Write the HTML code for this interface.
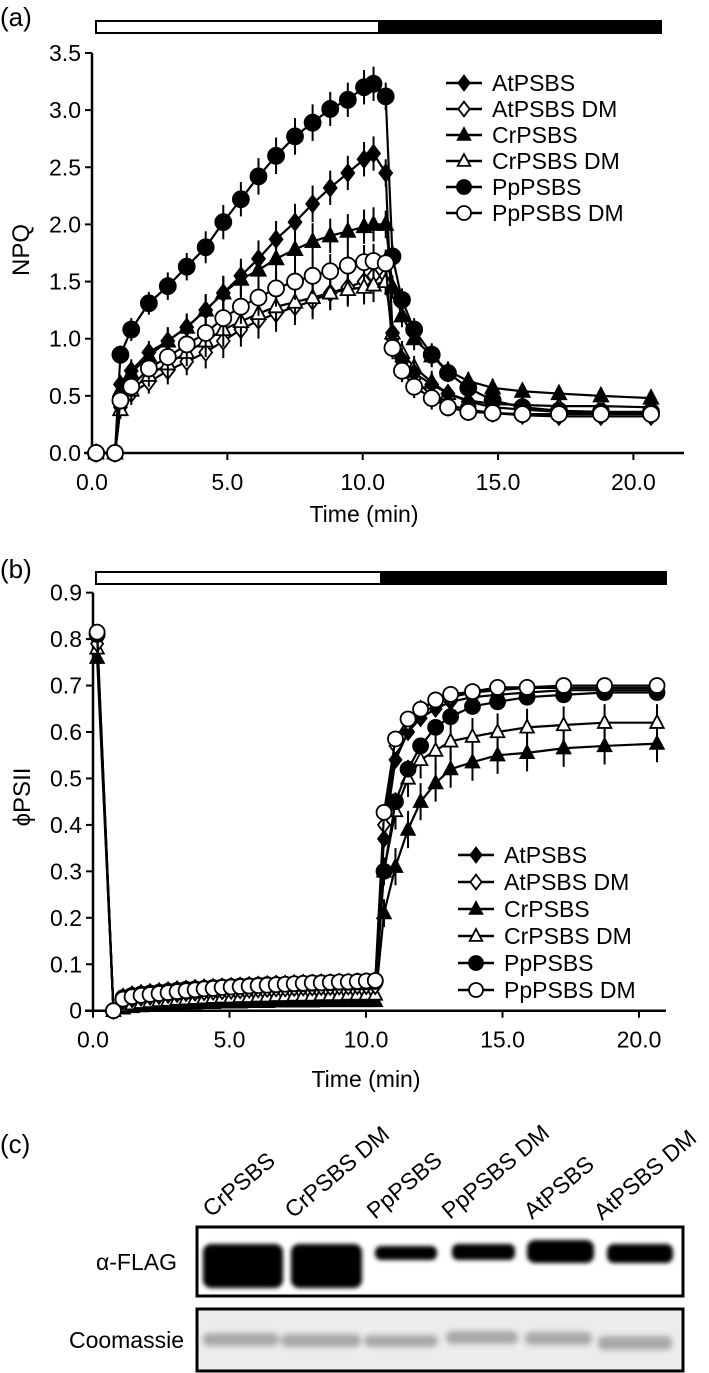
<!DOCTYPE html>
<html><head><meta charset="utf-8"><style>
html,body{margin:0;padding:0;background:#fff;}
svg{display:block;font-family:"Liberation Sans",Arial,sans-serif;}
</style></head><body>
<svg id="fig" width="709" height="1373" viewBox="0 0 709 1373" xmlns="http://www.w3.org/2000/svg">
<defs>
<filter id="blur2" x="-20%" y="-50%" width="140%" height="200%"><feGaussianBlur stdDeviation="2"/></filter>
<filter id="blur3" x="-20%" y="-50%" width="140%" height="200%"><feGaussianBlur stdDeviation="3"/></filter>
</defs>
<!-- panel a static -->
<g>
<text x="0" y="26" font-size="26">(a)</text>
<rect x="96" y="21" width="283" height="12" fill="#fff" stroke="#000" stroke-width="2"/>
<rect x="379" y="21" width="282" height="12" fill="#000" stroke="#000" stroke-width="2"/>
<text transform="translate(29,250) rotate(-90)" text-anchor="middle" font-size="24">NPQ</text>
<text x="364" y="522" text-anchor="middle" font-size="23">Time (min)</text>
<g id="axesA"></g><g id="seriesA"></g>
</g>
<g id="legendA"></g>
<!-- panel b static -->
<g>
<text x="0" y="578" font-size="26">(b)</text>
<rect x="96" y="572" width="285" height="12" fill="#fff" stroke="#000" stroke-width="2"/>
<rect x="381" y="572" width="285" height="12" fill="#000" stroke="#000" stroke-width="2"/>
<text transform="translate(30,797) rotate(-90)" text-anchor="middle" font-size="24">ϕPSII</text>
<text x="366" y="1087" text-anchor="middle" font-size="23">Time (min)</text>
<g id="axesB"></g><g id="seriesB"></g>
</g>
<g id="legendB"></g>
<!-- panel c -->
<g>
<text x="0" y="1153" font-size="26">(c)</text>
<g font-size="23">
<text transform="translate(211,1218) rotate(-40)">CrPSBS</text>
<text transform="translate(293,1219) rotate(-40)">CrPSBS DM</text>
<text transform="translate(375,1220) rotate(-40)">PpPSBS</text>
<text transform="translate(450,1220) rotate(-40)">PpPSBS DM</text>
<text transform="translate(532,1220) rotate(-40)">AtPSBS</text>
<text transform="translate(602,1221) rotate(-40)">AtPSBS DM</text>
</g>
<text x="177" y="1270" text-anchor="end" font-size="23">α-FLAG</text>
<text x="184" y="1348" text-anchor="end" font-size="23">Coomassie</text>
<g>
<rect x="197" y="1227" width="486" height="69" fill="#fff" stroke="#000" stroke-width="3"/>
<g filter="url(#blur2)" fill="#000">
<rect x="203" y="1244" width="80" height="44" rx="8"/>
<rect x="291" y="1244" width="71" height="44" rx="8"/>
<rect x="375" y="1246" width="62" height="14" rx="6"/>
<rect x="452" y="1244" width="63" height="16" rx="6"/>
<rect x="527" y="1240" width="67" height="23" rx="8"/>
<rect x="607" y="1244" width="66" height="19" rx="7"/>
</g>
</g>
<g>
<rect x="197" y="1309" width="486" height="62" fill="#ececec" stroke="#000" stroke-width="3"/>
<g filter="url(#blur3)" fill="#a8a8a8">
<rect x="203" y="1333" width="76" height="13" rx="6"/>
<rect x="281" y="1334" width="80" height="13" rx="6"/>
<rect x="364" y="1335" width="74" height="12" rx="6"/>
<rect x="446" y="1331" width="72" height="13" rx="6"/>
<rect x="525" y="1332" width="67" height="13" rx="6"/>
<rect x="598" y="1336" width="74" height="14" rx="6"/>
</g>
</g>
</g>
</svg>
<script>
// ---------- Panel A data ----------
const tA = [0.15,0.85,1.05,1.45,2.1,2.8,3.5,4.2,4.85,5.5,6.15,6.8,7.5,8.15,8.8,9.45,10.05,10.4,10.85,11.1,11.45,11.9,12.55,13.15,13.9,14.8,15.9,17.25,18.8,20.65];
const npqAt   = [0,0,0.6,0.72,0.88,0.98,1.1,1.25,1.4,1.55,1.7,1.87,2.02,2.18,2.32,2.45,2.57,2.62,2.45,1.05,0.82,0.7,0.6,0.52,0.45,0.4,0.38,0.36,0.35,0.35];
const npqAtDM = [0,0,0.4,0.52,0.62,0.72,0.8,0.88,0.98,1.08,1.16,1.22,1.28,1.33,1.4,1.45,1.5,1.55,1.55,1.0,0.8,0.65,0.5,0.42,0.38,0.35,0.33,0.32,0.32,0.32];
const npqCr   = [0,0,0.55,0.7,0.85,0.98,1.1,1.25,1.4,1.52,1.6,1.7,1.78,1.85,1.9,1.94,1.98,2.0,2.0,1.45,1.2,1.0,0.85,0.72,0.63,0.57,0.54,0.52,0.5,0.48];
const npqCrDM = [0,0,0.38,0.55,0.68,0.78,0.88,0.98,1.08,1.15,1.22,1.28,1.32,1.36,1.4,1.43,1.45,1.47,1.5,1.05,0.88,0.75,0.62,0.52,0.46,0.43,0.42,0.41,0.41,0.4];
const npqPp   = [0,0,0.86,1.08,1.31,1.46,1.63,1.8,2.02,2.22,2.42,2.6,2.77,2.89,3.01,3.09,3.2,3.23,3.12,1.72,1.34,1.08,0.86,0.7,0.57,0.46,0.4,0.37,0.36,0.36];
const npqPpDM = [0,0,0.46,0.58,0.74,0.84,0.95,1.05,1.18,1.28,1.36,1.44,1.5,1.55,1.59,1.64,1.67,1.68,1.66,0.92,0.72,0.58,0.48,0.4,0.36,0.35,0.34,0.34,0.34,0.34];
const errA = [0,0,0.08,0.1,0.1,0.12,0.12,0.14,0.15,0.15,0.16,0.16,0.16,0.16,0.15,0.15,0.15,0.15,0.12,0.1,0.1,0.1,0.1,0.08,0.08,0.08,0.07,0.07,0.06,0.06];
const yTicksA = [0,0.5,1.0,1.5,2.0,2.5,3.0,3.5];
const yTickLabelsA = ["0.0","0.5","1.0","1.5","2.0","2.5","3.0","3.5"];
const xTicks = [0,5,10,15,20];
const xTickLabels = ["0.0","5.0","10.0","15.0","20.0"];
// ---------- Panel B data ----------
const tB = [0.15,0.75,1.1,1.43,1.76,2.09,2.42,2.75,3.08,3.41,3.74,4.07,4.4,4.73,5.06,5.39,5.72,6.05,6.38,6.71,7.04,7.37,7.7,8.03,8.36,8.69,9.02,9.35,9.68,10.01,10.34,10.66,11.08,11.54,12.0,12.55,13.1,13.9,14.82,15.9,17.24,18.74,20.66];
const phiAt   = [0.8,0,0.03,0.035,0.038,0.04,0.042,0.044,0.046,0.047,0.049,0.05,0.051,0.052,0.053,0.054,0.055,0.056,0.057,0.058,0.058,0.059,0.06,0.06,0.061,0.061,0.062,0.062,0.063,0.063,0.063,0.37,0.54,0.6,0.63,0.65,0.665,0.675,0.68,0.685,0.69,0.69,0.69];
const phiAtDM = [0.79,0,0.02,0.025,0.028,0.03,0.032,0.034,0.036,0.038,0.039,0.04,0.041,0.042,0.043,0.044,0.045,0.046,0.047,0.048,0.048,0.049,0.05,0.05,0.051,0.051,0.052,0.052,0.053,0.053,0.053,0.4,0.57,0.62,0.65,0.665,0.675,0.685,0.69,0.695,0.695,0.695,0.695];
const phiCr   = [0.76,0,0.005,0.008,0.01,0.012,0.013,0.014,0.015,0.016,0.016,0.017,0.017,0.018,0.018,0.018,0.019,0.019,0.019,0.02,0.02,0.02,0.02,0.02,0.021,0.021,0.021,0.021,0.021,0.021,0.021,0.21,0.31,0.39,0.45,0.49,0.52,0.535,0.55,0.555,0.565,0.57,0.575];
const phiCrDM = [0.78,0,0.01,0.014,0.017,0.019,0.021,0.022,0.024,0.025,0.026,0.027,0.028,0.029,0.029,0.03,0.03,0.031,0.031,0.032,0.032,0.033,0.033,0.033,0.034,0.034,0.034,0.035,0.035,0.035,0.035,0.3,0.43,0.5,0.54,0.56,0.58,0.59,0.6,0.61,0.615,0.62,0.62];
const phiPp   = [0.81,0,0.028,0.033,0.036,0.038,0.04,0.042,0.044,0.046,0.047,0.048,0.05,0.051,0.052,0.053,0.054,0.055,0.056,0.056,0.057,0.058,0.058,0.059,0.06,0.06,0.061,0.061,0.062,0.062,0.063,0.3,0.45,0.52,0.57,0.61,0.633,0.655,0.665,0.675,0.68,0.685,0.685];
const phiPpDM = [0.815,0,0.025,0.03,0.033,0.035,0.037,0.039,0.041,0.043,0.045,0.047,0.048,0.05,0.051,0.052,0.053,0.054,0.055,0.056,0.057,0.058,0.059,0.06,0.06,0.061,0.062,0.062,0.063,0.064,0.065,0.427,0.585,0.628,0.649,0.669,0.681,0.687,0.696,0.696,0.7,0.7,0.7];
const errB = [0,0,0,0,0,0,0,0,0,0,0,0,0,0,0,0,0,0,0,0,0,0,0,0,0,0,0,0,0,0,0,0.03,0.04,0.04,0.04,0.04,0.04,0.04,0.04,0.04,0.04,0.04,0.04];
const yTicksB = [0,0.1,0.2,0.3,0.4,0.5,0.6,0.7,0.8,0.9];
const yTickLabelsB = ["0","0.1","0.2","0.3","0.4","0.5","0.6","0.7","0.8","0.9"];
const legendNames = ["AtPSBS","AtPSBS DM","CrPSBS","CrPSBS DM","PpPSBS","PpPSBS DM"];

const NS="http://www.w3.org/2000/svg";
function mk(tag,attrs,parent){const e=document.createElementNS(NS,tag);for(const k in attrs)e.setAttribute(k,attrs[k]);parent.appendChild(e);return e;}

const xA=t=>92+t*27.07, yA=v=>453-v*114.3;
const xB=t=>93+t*27.3, yB=v=>1010.7-v*464.5;

function drawAxes(g,xf,yf,yT,yL,yMin,yMax,xEnd,tag){
  let l=mk('line',{x1:xf(0),y1:yf(yMax),x2:xf(0),y2:yf(yMin),stroke:'#000','stroke-width':2.5},g);
  
  
  l=mk('line',{x1:xf(0)-8,y1:yf(yMin),x2:xEnd,y2:yf(yMin),stroke:'#000','stroke-width':2.5},g);
  
  
  yT.forEach((v,i)=>{
    mk('line',{x1:xf(0)-7,y1:yf(v),x2:xf(0),y2:yf(v),stroke:'#000','stroke-width':2},g);
    const t=mk('text',{x:xf(0)-11,y:yf(v)+8,'text-anchor':'end','font-size':23},g);
    t.textContent=yL[i];
    
    
  });
  xTicks.forEach((v,i)=>{
    mk('line',{x1:xf(v),y1:yf(yMin),x2:xf(v),y2:yf(yMin)+7,stroke:'#000','stroke-width':2},g);
    const t=mk('text',{x:xf(v),y:yf(yMin)+37,'text-anchor':'middle','font-size':23},g);
    t.textContent=xTickLabels[i];
    
    
  });
}
function marker(g,type,x,y,r){
  const filled=type.indexOf('f')===0, fill=filled?'#000':'#fff';
  const shape=type.slice(1);
  let e;
  if(shape==='c') e=mk('circle',{cx:x,cy:y,r:r,fill:fill,stroke:'#000','stroke-width':1.8},g);
  else if(shape==='d') e=mk('polygon',{points:`${x},${y-r*1.05} ${x+r*0.8},${y} ${x},${y+r*1.05} ${x-r*0.8},${y}`,fill:fill,stroke:'#000','stroke-width':1.8},g);
  else e=mk('polygon',{points:`${x},${y-r} ${x+r*0.9},${y+r*0.7} ${x-r*0.9},${y+r*0.7}`,fill:fill,stroke:'#000','stroke-width':1.8},g);
  return e;
}
function drawSeries(g,ts,vals,err,xf,yf,type,r,name){
  const sg=mk('g',{},g);
  
  
  if(err){ts.forEach((t,i)=>{if(err[i]>0)mk('line',{x1:xf(t),y1:yf(vals[i]+err[i]),x2:xf(t),y2:yf(vals[i]-err[i]),stroke:'#000','stroke-width':2},sg);});}
  mk('polyline',{points:ts.map((t,i)=>xf(t)+','+yf(vals[i])).join(' '),fill:'none',stroke:'#000','stroke-width':2.2},sg);
  ts.forEach((t,i)=>marker(sg,type,xf(t),yf(vals[i]),r));
}
function drawLegend(g,x,y0,dy){
  const types=['fd','od','ft','ot','fc','oc'];
  legendNames.forEach((n,i)=>{
    const y=y0+i*dy;
    const lg=mk('g',{},g);
    
    
    mk('line',{x1:x,y1:y,x2:x+36,y2:y,stroke:'#000','stroke-width':2.5},lg);
    marker(lg,types[i],x+18,y,7);
    const t=mk('text',{x:x+46,y:y+8,'font-size':23},lg);
    t.textContent=n;
  });
}
const gA=document.getElementById('axesA'), sA=document.getElementById('seriesA');
drawAxes(gA,xA,yA,yTicksA,yTickLabelsA,0,3.5,684,'a');
drawSeries(sA,tA,npqAtDM,errA,xA,yA,'od',8,'series-a-atpsbs-dm');
drawSeries(sA,tA,npqCrDM,errA,xA,yA,'ot',8,'series-a-crpsbs-dm');
drawSeries(sA,tA,npqAt,errA,xA,yA,'fd',8,'series-a-atpsbs');
drawSeries(sA,tA,npqCr,errA,xA,yA,'ft',8,'series-a-crpsbs');
drawSeries(sA,tA,npqPp,errA,xA,yA,'fc',8,'series-a-pppsbs');
drawSeries(sA,tA,npqPpDM,errA,xA,yA,'oc',8,'series-a-pppsbs-dm');
drawLegend(document.getElementById('legendA'),446,83,26);
const gB=document.getElementById('axesB'), sB=document.getElementById('seriesB');
drawAxes(gB,xB,yB,yTicksB,yTickLabelsB,0,0.9,666,'b');
drawSeries(sB,tB,phiCr,errB,xB,yB,'ft',7.5,'series-b-crpsbs');
drawSeries(sB,tB,phiCrDM,errB,xB,yB,'ot',7.5,'series-b-crpsbs-dm');
drawSeries(sB,tB,phiAt,null,xB,yB,'fd',7.5,'series-b-atpsbs');
drawSeries(sB,tB,phiAtDM,null,xB,yB,'od',7.5,'series-b-atpsbs-dm');
drawSeries(sB,tB,phiPp,null,xB,yB,'fc',7.5,'series-b-pppsbs');
drawSeries(sB,tB,phiPpDM,null,xB,yB,'oc',7.5,'series-b-pppsbs-dm');
drawLegend(document.getElementById('legendB'),458,855,27);
</script>
</body></html>
